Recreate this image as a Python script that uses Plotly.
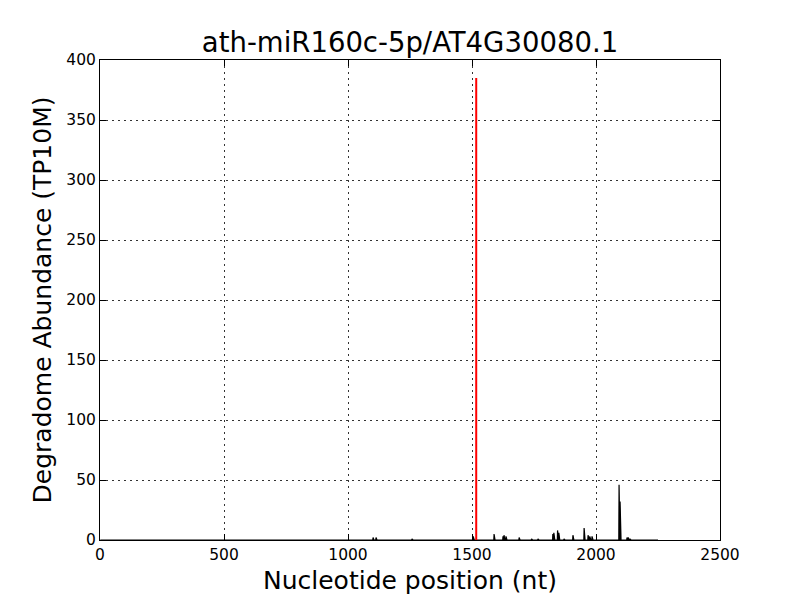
import plotly.graph_objects as go

title_text = "ath-miR160c-5p/AT4G30080.1"
x_label = "Nucleotide position (nt)"
y_label = "Degradome Abundance (TP10M)"

# cleavage site (red)
site_pos = [1517]
site_val = [385]

# degradome peaks (black): positions and abundances
peak_pos = [1101, 1104, 1113, 1258, 1505, 1589, 1591, 1625, 1629, 1637, 1640,
            1690, 1740, 1766, 1826, 1830, 1845, 1850, 1871, 1907, 1952, 1955,
            1968, 1975, 1984, 2093, 2095, 2097, 2125, 2130, 2137, 2205]
peak_val = [2, 1, 2, 1, 3, 5, 3, 3, 4, 3, 2,
            2, 1, 1, 5, 6, 8, 6, 1, 4, 10, 6,
            4, 3, 3, 46, 40, 32, 2, 2, 1, 0.5]

transcript_len = 2250

lookup = dict(zip(peak_pos, peak_val))
xs = list(range(1, transcript_len + 1))
ys = [lookup.get(p, 0) for p in xs]

fig = go.Figure()
fig.add_trace(go.Scatter(x=xs, y=ys, mode="lines", line=dict(color="black", width=1.2),
                         fill="tozeroy", fillcolor="black", showlegend=False))
for p, v in zip(site_pos, site_val):
    fig.add_trace(go.Scatter(x=[p, p], y=[0, v], mode="lines",
                             line=dict(color="red", width=2), showlegend=False))

axis_common = dict(showline=True, linecolor="black", linewidth=1, mirror="ticks",
                   ticks="inside", ticklen=6, tickcolor="black",
                   showgrid=True, gridcolor="#333333", griddash="2px,4px", gridwidth=1,
                   zeroline=False, automargin=False,
                   tickfont=dict(size=15.5, color="black"))

fig.update_layout(
    width=800, height=600,
    paper_bgcolor="white", plot_bgcolor="white",
    margin=dict(l=100, r=80, t=60, b=60),
    font=dict(family="DejaVu Sans", color="black"),
    title=dict(text=title_text, x=0.5125, xanchor="center", y=0.9297, yanchor="middle",
               font=dict(size=27.5, color="black")),
    xaxis=dict(range=[0, 2500], dtick=500, title=dict(text=x_label, font=dict(size=25), standoff=8),
               **axis_common),
    yaxis=dict(range=[0, 400], dtick=50, title=dict(text=y_label, font=dict(size=25), standoff=7),
               **axis_common),
)

fig.write_html("out.html", config={"displayModeBar": False},
               post_script="document.body.style.margin='0';document.body.style.overflow='hidden';")
